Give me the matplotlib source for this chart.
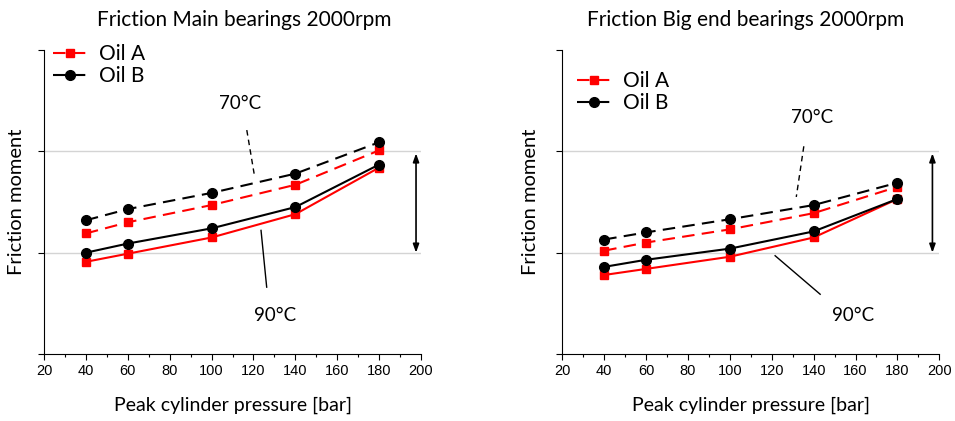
import matplotlib
matplotlib.use("Agg")
import matplotlib.pyplot as plt
from matplotlib.ticker import MultipleLocator

# --- Data (friction moment, arbitrary units) ---
pressure = [40, 60, 100, 140, 180]

main_a_70 = [1.19, 1.30, 1.47, 1.67, 2.01]
main_b_70 = [1.32, 1.43, 1.59, 1.78, 2.09]
main_a_90 = [0.91, 0.99, 1.15, 1.38, 1.84]
main_b_90 = [1.00, 1.09, 1.24, 1.45, 1.87]

big_a_70 = [1.02, 1.10, 1.23, 1.39, 1.65]
big_b_70 = [1.13, 1.20, 1.33, 1.47, 1.69]
big_a_90 = [0.78, 0.84, 0.96, 1.15, 1.53]
big_b_90 = [0.86, 0.93, 1.04, 1.21, 1.53]

titles = ["Friction Main bearings 2000rpm", "Friction Big end bearings 2000rpm"]

label_font = "Lato"
tick_font = "Liberation Sans"
dash = (6, 3.5)

fig = plt.figure(figsize=(9.55, 4.21), dpi=100)
ax1 = fig.add_axes([0.0461, 0.1591, 0.3948, 0.7221])
ax2 = fig.add_axes([0.5888, 0.1591, 0.3948, 0.7221])


def draw(ax, a70, b70, a90, b90):
    ax.plot(pressure, a70, color="red", lw=1.5, ls=(0, dash), marker="s", ms=6,
            label="Oil A", zorder=3)
    ax.plot(pressure, b70, color="black", lw=1.5, ls=(0, dash), marker="o", ms=7,
            label="Oil B", zorder=4)
    ax.plot(pressure, a90, color="red", lw=1.5, marker="s", ms=6, zorder=3)
    ax.plot(pressure, b90, color="black", lw=1.5, marker="o", ms=7, zorder=4)

    for g in [1, 2]:
        ax.axhline(g, color="#d4d4d4", lw=1.0, zorder=0)

    ax.set_xlim(20, 200)
    ax.set_ylim(0, 3)
    ax.xaxis.set_major_locator(MultipleLocator(20))
    ax.xaxis.set_minor_locator(MultipleLocator(10))
    ax.yaxis.set_major_locator(MultipleLocator(1))
    ax.set_yticklabels([])
    ax.tick_params(axis="both", which="major", direction="out", length=4, width=0.8)
    ax.tick_params(axis="x", which="minor", direction="out", length=2.5, width=0.8)
    for lab in ax.get_xticklabels():
        lab.set_fontfamily(tick_font)
        lab.set_fontsize(10.5)
    ax.spines["top"].set_visible(False)
    ax.spines["right"].set_visible(False)

    ax.set_xlabel("Peak cylinder pressure [bar]", fontfamily=label_font, fontsize=14)
    ax.xaxis.set_label_coords(0.5, -0.14)
    ax.set_ylabel("Friction moment", fontfamily=label_font, fontsize=14.5)


draw(ax1, main_a_70, main_b_70, main_a_90, main_b_90)
draw(ax2, big_a_70, big_b_70, big_a_90, big_b_90)
ax1.yaxis.set_label_coords(-0.050, 0.5)
ax2.yaxis.set_label_coords(-0.062, 0.5)

# legends
leg = dict(frameon=False, prop={"family": label_font, "size": 15},
           handlelength=1.65, handletextpad=0.55, labelspacing=0.1,
           borderpad=0, borderaxespad=0)
ax1.legend(loc="upper left", bbox_to_anchor=(0.024, 1.02), **leg)
ax2.legend(loc="upper left", bbox_to_anchor=(0.039, 0.93), **leg)

# temperature annotations
ann = dict(fontfamily=label_font, fontsize=13.5, ha="center", va="center")
ax1.text(113.6, 2.47, "70°C", **ann)
ax1.plot([116.8, 120.3], [2.21, 1.78], color="black", lw=1.0, ls=(0, (4, 3)))
ax1.text(130.3, 0.385, "90°C", **ann)
ax1.plot([123.6, 126.3], [1.22, 0.66], color="black", lw=1.0)

ax2.text(139.1, 2.33, "70°C", **ann)
ax2.plot([135.3, 131.7], [2.05, 1.55], color="black", lw=1.0, ls=(0, (4, 3)))
ax2.text(159.0, 0.385, "90°C", **ann)
ax2.plot([121.6, 143.1], [0.97, 0.59], color="black", lw=1.0)

# range arrows
arrow = dict(arrowstyle="<|-|>,head_length=0.5,head_width=0.18", color="black",
             lw=1.2, shrinkA=0, shrinkB=0)
ax1.annotate("", xy=(197.6, 1.98), xytext=(197.6, 1.0), arrowprops=arrow)
ax2.annotate("", xy=(196.7, 1.98), xytext=(196.7, 1.0), arrowprops=arrow)

fig.text(0.2555, 0.9525, titles[0], fontfamily=label_font, fontsize=15,
         ha="center", va="center")
fig.text(0.781, 0.9525, titles[1], fontfamily=label_font, fontsize=15,
         ha="center", va="center")

fig.savefig("out.png", dpi=100)
